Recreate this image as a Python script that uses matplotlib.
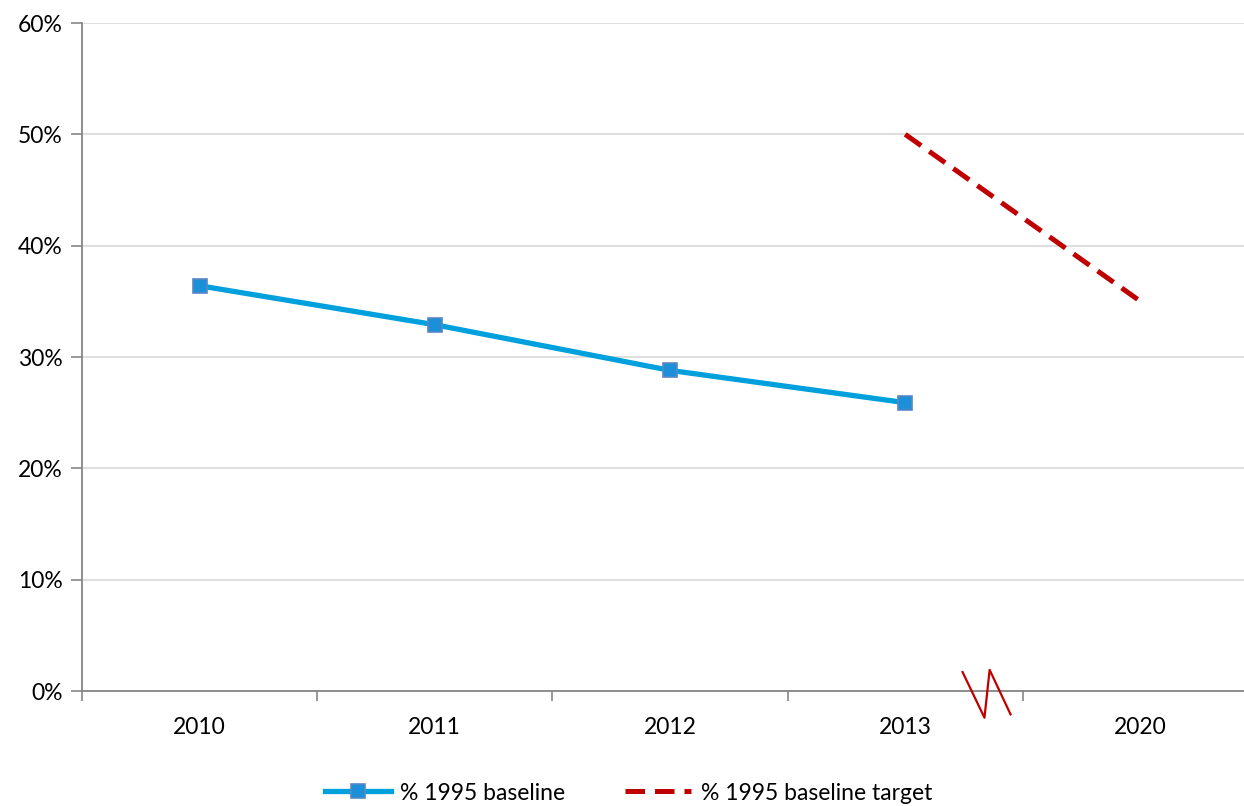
import matplotlib.pyplot as plt
import numpy as np

years = ['2010', '2011', '2012', '2013', '2020']
baseline = [36.4, 32.9, 28.8, 25.9]
target = [50.0, 35.0]

plt.rcParams['font.family'] = ['Lato', 'DejaVu Sans']
fs = 16.5

fig = plt.figure(figsize=(12.44, 8.06), dpi=100)
W, H = 1244, 806
# axes spans past the right edge, like the original
ax = fig.add_axes([82 / W, 1 - 691 / H, (1258 - 82) / W, (691 - 23) / H])

x = np.arange(len(years))
ax.plot(x[:4], baseline, color='#00A0DC', lw=3.8, marker='s', ms=10,
        markerfacecolor='#1B8FD8', markeredgecolor='#5A87C5', mew=1.2,
        label='% 1995 baseline', zorder=3)
ax.plot(x[3:], target, color='#C00000', lw=3.6, ls=(0, (3.9, 2.0)),
        label='% 1995 baseline target', zorder=3)

ax.set_xlim(-0.5, 4.5)
ax.set_ylim(0, 60)
ax.set_yticks(np.arange(0, 61, 10))
ax.set_yticklabels([f'{v}%' for v in range(0, 61, 10)], fontsize=fs)
ax.yaxis.grid(True, color='#D9D9D9', lw=1.2)
ax.set_axisbelow(True)

ax.set_xticks(np.arange(-0.5, 5, 1))
ax.set_xticklabels([])
ax.set_xticks(x, minor=True)
ax.set_xticklabels(years, minor=True, fontsize=fs)
ax.tick_params(axis='x', which='major', length=7, color='#868686', width=1.2)
ax.tick_params(axis='x', which='minor', length=0, pad=19)
ax.tick_params(axis='y', length=8, color='#868686', width=1.2, pad=6)

for s in ['top', 'right']:
    ax.spines[s].set_visible(False)
for s in ['left', 'bottom']:
    ax.spines[s].set_color('#868686')
    ax.spines[s].set_linewidth(1.3)

# axis break marker between 2013 and 2020
bx = [3.244, 3.337, 3.359, 3.448]
by = [1.7, -2.4, 1.9, -2.1]
ax.plot(bx, by, color='#C00000', lw=1.6, clip_on=False, zorder=4)

leg = fig.legend(loc='center', bbox_to_anchor=(0.505, 1 - 793 / H), ncol=2,
                 frameon=False, fontsize=fs, handlelength=2.9,
                 columnspacing=2.6, handletextpad=0.4)
fig.savefig('out.png', dpi=100)
